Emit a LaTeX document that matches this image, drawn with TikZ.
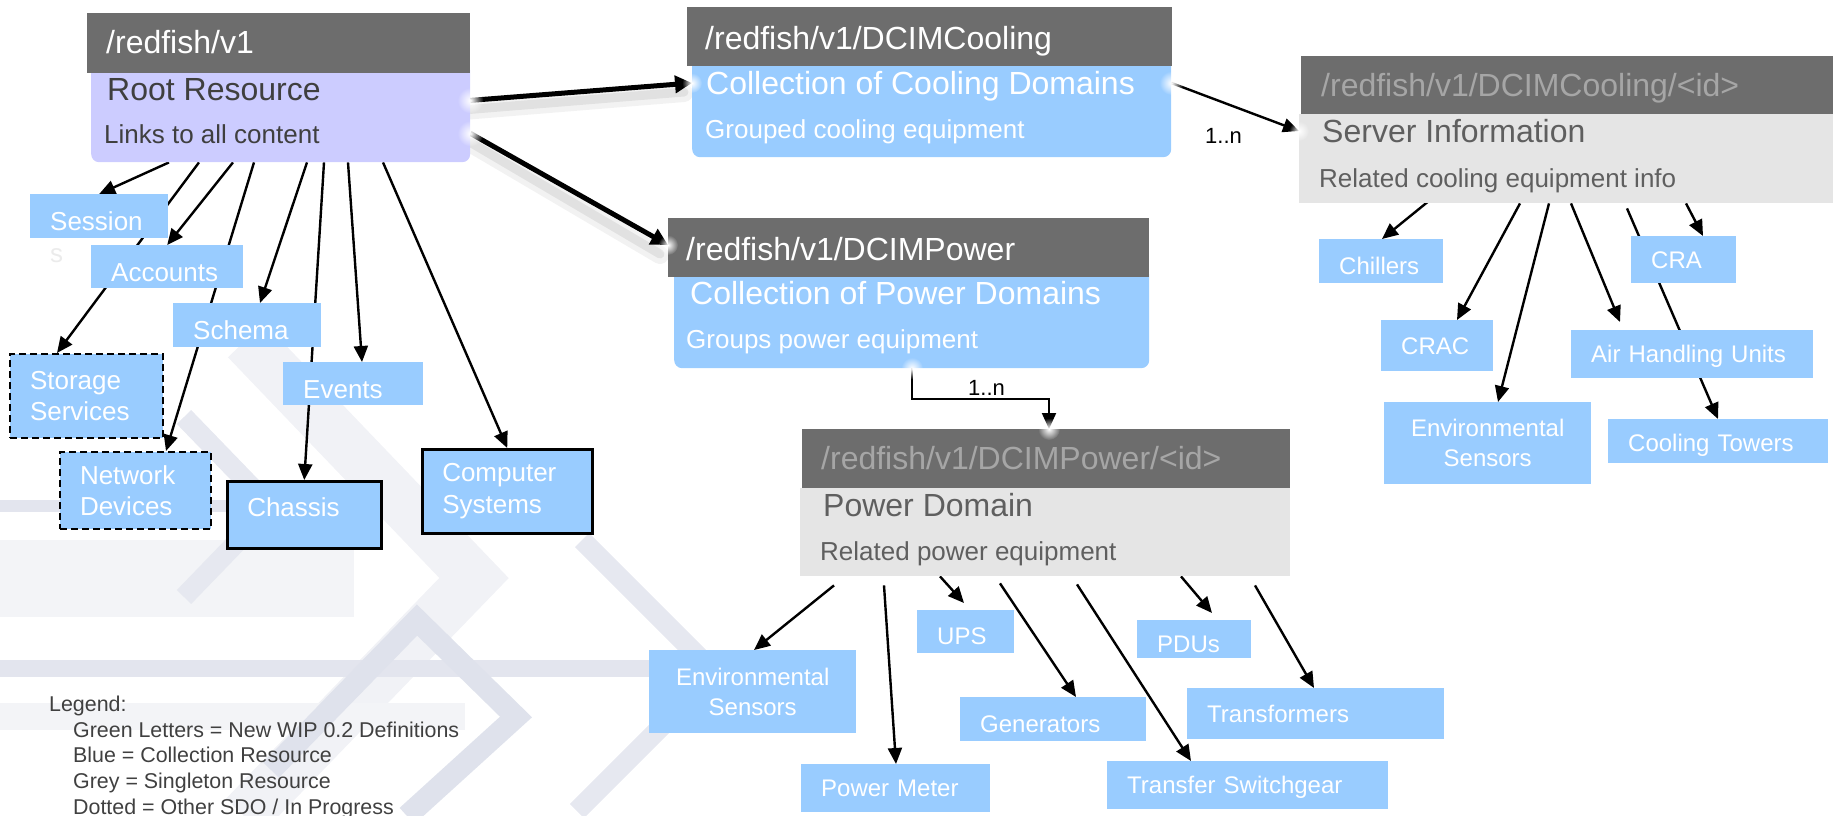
\documentclass[tikz,border=0pt]{standalone}
\usepackage{fontspec}
\setmainfont{Liberation Sans}
\usetikzlibrary{arrows.meta,fadings}
\tikzfading[name=glowfade, inner color=transparent!0, outer color=transparent!100]
\pgfdeclarelayer{bglayer}
\pgfdeclarelayer{lines}
\pgfsetlayers{bglayer,lines,main}
\definecolor{hdr}{HTML}{6D6D6D}
\definecolor{lav}{HTML}{CCCCFF}
\definecolor{lblue}{HTML}{99CCFF}
\definecolor{sgl}{HTML}{E5E5E5}
\definecolor{dtxt}{HTML}{3F3F3F}
\definecolor{gtxt}{HTML}{5F5F5F}
\definecolor{htxt}{HTML}{A6A6A6}
\definecolor{legtxt}{HTML}{404040}
\definecolor{sfaint}{HTML}{EBEBEB}
\definecolor{bgband}{HTML}{E3E5EE}
\definecolor{bgbig}{HTML}{F1F2F6}
\definecolor{bgchev}{HTML}{E6E8F0}
\definecolor{bgzig}{HTML}{DFE2EC}
\definecolor{bglight}{HTML}{F3F4F7}
\begin{document}
\begin{tikzpicture}[x=1pt,y=-1pt,
  kid/.style={anchor=north west, fill=lblue, text=white, inner xsep=20pt, inner ysep=0pt, align=left, font=\fontsize{26}{31.5}\selectfont},
  kidc/.style={kid, font=\fontsize{24}{30}\selectfont},
  one/.style={text depth=0pt},
  lower/.style={text depth=0pt, text height=#1},
  solidb/.style={draw=black, line width=2.5pt},
  dashb/.style={draw=black, line width=2pt, dash pattern=on 7pt off 4pt},
  hdrbox/.style={anchor=north west, fill=hdr, inner sep=0pt},
  colbody/.style={anchor=north west, inner sep=0pt, rounded corners=8pt},
  sglbody/.style={anchor=north west, fill=sgl, inner sep=0pt},
  ttl/.style={anchor=base west, inner sep=0pt, font=\fontsize{32}{38}\selectfont},
  sub/.style={anchor=base west, inner sep=0pt, font=\fontsize{26}{31}\selectfont},
  arr/.style={draw=black, line width=2.4pt, -{Triangle[length=16pt,width=14pt]}},
  bigarr/.style={draw=black, line width=5pt, -{Triangle[length=17pt,width=17pt]}},
  glow/.style={fill=white, path fading=glowfade},
  bgline/.style={line width=#1, line join=miter},
  lbl/.style={anchor=base west, inner sep=0pt, font=\fontsize{22}{26}\selectfont},
  leg/.style={anchor=base west, inner sep=0pt, text=legtxt, font=\fontsize{21.4}{25}\selectfont}
]
\useasboundingbox (0,0) rectangle (1839,816);
% ---------- background pattern ----------
\begin{pgfonlayer}{bglayer}
\draw[bgline=50pt, draw=bgbig] (246,340) -- (474,578) -- (244,816);
\fill[bglight] (0,540) rectangle (354,617);
\fill[bglight] (0,703) rectangle (465,730);
\fill[bgband] (0,500) rectangle (228,512);
\fill[bgband] (0,660) rectangle (650,677);
\draw[bgline=20pt, draw=bgchev] (184,417) -- (271,507) -- (184,597);
\draw[bgline=22pt, draw=bgzig] (271,770) -- (417,620) -- (516,717) -- (407,816);
\draw[bgline=20pt, draw=bgchev] (582,540) -- (715,673) -- (577,811);
\end{pgfonlayer}
% ---------- resource boxes ----------
\node[colbody, fill=lav, minimum width=379pt, minimum height=99pt] (rb) at (91,63) {};
\node[hdrbox, minimum width=383pt, minimum height=60pt] (rh) at (87,13) {};
\node[ttl, text=white] (rht) at (106,54) {/redfish/v1};
\node[ttl, text=dtxt] (rbt) at (107,100) {Root Resource};
\node[sub, text=dtxt] (rbs) at (104,143) {Links to all content};

\node[colbody, fill=lblue, minimum width=479pt, minimum height=101pt] (cb) at (692,56) {};
\node[hdrbox, minimum width=485pt, minimum height=59pt] (ch) at (687,7) {};
\node[ttl, text=white] (cht) at (705,50) {/redfish/v1/DCIMCooling};
\node[ttl, text=white] (cbt) at (706,94) {Collection of Cooling Domains};
\node[sub, text=white] (cbs) at (705,138) {Grouped cooling equipment};

\node[colbody, fill=lblue, minimum width=475pt, minimum height=101pt] (pb) at (674,267) {};
\node[hdrbox, minimum width=481pt, minimum height=59pt] (ph) at (668,218) {};
\node[ttl, text=white] (pht) at (686,260) {/redfish/v1/DCIMPower};
\node[ttl, text=white] (pbt) at (690,304) {Collection of Power Domains};
\node[sub, text=white] (pbs) at (686,348) {Groups power equipment};

\node[sglbody, minimum width=490pt, minimum height=88pt] (pib) at (800,488) {};
\node[hdrbox, minimum width=488pt, minimum height=59pt] (pih) at (802,429) {};
\node[ttl, text=htxt] (piht) at (821,469) {/redfish/v1/DCIMPower/<id>};
\node[ttl, text=gtxt] (pibt) at (823,516) {Power Domain};
\node[sub, text=gtxt] (pibs) at (820,560) {Related power equipment};

\node[sglbody, minimum width=534pt, minimum height=89pt] (cib) at (1299,114) {};
\node[hdrbox, minimum width=532pt, minimum height=58pt] (cih) at (1301,56) {};
\node[ttl, text=htxt] (ciht) at (1321,96) {/redfish/v1/DCIMCooling/<id>};
\node[ttl, text=gtxt] (cibt) at (1322,142) {Server Information};
\node[sub, text=gtxt] (cibs) at (1319,187) {Related cooling equipment info};

% soft glows where the main connectors meet the boxes
\fill[glow] ([yshift=62pt]rb.south east) circle (13pt);
\fill[glow] ([yshift=29pt]rb.south east) circle (13pt);
\fill[glow] ([yshift=-27pt]cb.north east) circle (12pt);
\fill[glow] ([yshift=-27pt]cb.north west) circle (10pt);
\fill[glow] ([yshift=-27pt]ph.north west) circle (10pt);
\fill[glow] ([xshift=238pt]pb.south west) circle (11pt);
\fill[glow] ([xshift=247pt]pih.north west) circle (11pt);
\fill[glow] ([yshift=-17pt]cib.north west) circle (10pt);

% ---------- root children ----------
\node[kid, lower=29pt, minimum height=44pt, text width=98pt] (session) at (30,194) {Session};
\node[kid, lower=29pt, minimum height=43pt, text width=112pt] (accounts) at (91,245) {Accounts};
\node[kid, lower=29pt, minimum height=44pt, text width=108pt] (schema) at (173,303) {Schema};
\node[kid, dashb, minimum height=84pt, text width=113pt] (storage) at (9,353) {Storage\\Services};
\node[kid, dashb, minimum height=77pt, text width=111pt] (network) at (59,451) {Network\\Devices};
\node[kid, lower=29pt, minimum height=43pt, text width=100pt] (events) at (283,362) {Events};
\node[kid, solidb, text height=19pt, text depth=16pt, minimum height=67pt, text width=114pt] (chassis) at (226,480) {Chassis};
\node[kid, solidb, minimum height=84pt, text width=130pt] (comp) at (421,448) {Computer\\Systems};
\node[anchor=base west, inner sep=0pt, text=sfaint, font=\fontsize{26}{31}\selectfont] (sessions) at (50,262) {s};

% ---------- cooling children ----------
\node[kidc, lower=26pt, minimum height=44pt, text width=84pt] (chillers) at (1319,239) {Chillers};
\node[kidc, one, minimum height=47pt, text width=65pt] (cra) at (1631,236) {CRA};
\node[kidc, one, minimum height=51pt, text width=72pt] (crac) at (1381,320) {CRAC};
\node[kidc, one, minimum height=48pt, text width=202pt] (ahu) at (1571,330) {Air Handling Units};
\node[kidc, align=center, minimum height=82pt, text width=167pt] (esc) at (1384,402) {Environmental\\Sensors};
\node[kidc, lower=21pt, minimum height=44pt, text width=180pt] (ct) at (1608,419) {Cooling Towers};

% ---------- power children ----------
\node[kidc, align=center, minimum height=83pt, text width=167pt] (esp) at (649,650) {Environmental\\Sensors};
\node[kidc, one, minimum height=48pt, text width=149pt] (pm) at (801,764) {Power Meter};
\node[kidc, lower=26pt, minimum height=43pt, text width=57pt] (ups) at (917,610) {UPS};
\node[kidc, lower=26pt, minimum height=44pt, text width=146pt] (gen) at (960,697) {Generators};
\node[kidc, one, minimum height=48pt, text width=241pt] (ts) at (1107,761) {Transfer Switchgear};
\node[kidc, lower=27pt, minimum height=38pt, text width=74pt] (pdus) at (1137,620) {PDUs};
\node[kidc, one, minimum height=51pt, text width=217pt] (tr) at (1187,688) {Transformers};

% ---------- legend ----------
\node[leg] (lg0) at (49,711) {Legend:};
\node[leg] (lg1) at (73,737) {Green Letters = New WIP 0.2 Definitions};
\node[leg] (lg2) at (73,762) {Blue = Collection Resource};
\node[leg] (lg3) at (73,788) {Grey = Singleton Resource};
\node[leg] (lg4) at (73,814) {Dotted = Other SDO / In Progress};

% ---------- connectors ----------
\begin{pgfonlayer}{lines}
\draw[line width=18pt, black, opacity=0.05, line cap=round] ([yshift=52pt]rb.south east) -- ([xshift=-8pt,yshift=-37pt]cb.north west);
\draw[line width=9pt, black, opacity=0.07, line cap=round] ([yshift=53pt]rb.south east) -- ([xshift=-8pt,yshift=-36pt]cb.north west);
\draw[line width=18pt, black, opacity=0.05, line cap=round] ([yshift=19pt]rb.south east) -- ([xshift=-8pt,yshift=-37pt]ph.north west);
\draw[line width=9pt, black, opacity=0.07, line cap=round] ([yshift=20pt]rb.south east) -- ([xshift=-8pt,yshift=-36pt]ph.north west);
\draw[bigarr] ([yshift=62pt]rb.south east) -- ([yshift=-27pt]cb.north west);
\draw[bigarr] ([yshift=29pt]rb.south east) -- ([yshift=-27pt]ph.north west);

\draw[arr] ([yshift=-27pt]cb.north east) -- ([yshift=-17pt]cib.north west);
\draw[draw=black, line width=2pt, -{Triangle[length=16pt,width=14pt]}] ([xshift=238pt]pb.south west) |- ([xshift=247pt,yshift=30pt]pih.north west) -- ([xshift=247pt]pih.north west);

% root children
\draw[arr] ([xshift=78pt]rb.south west) -- (session.north);
\draw[arr] ([xshift=108pt]rb.south west) -- ([xshift=48pt]storage.north west);
\draw[arr] ([xshift=142pt]rb.south west) -- (accounts.north);
\draw[arr] ([xshift=163pt]rb.south west) -- ([xshift=107pt]network.north west);
\draw[arr] ([xshift=216pt]rb.south west) -- ([xshift=87pt]schema.north west);
\draw[arr] ([xshift=233pt]rb.south west) -- (chassis.north);
\draw[arr] ([xshift=257pt]rb.south west) -- ([xshift=79pt]events.north west);
\draw[arr] ([xshift=292pt]rb.south west) -- (comp.north);

% cooling children
\draw[arr] ([xshift=133pt,yshift=5pt]cib.south west) -- ([xshift=63pt]chillers.north west);
\draw[arr] ([xshift=221pt]cib.south west) -- ([xshift=76pt]crac.north west);
\draw[arr] ([xshift=250pt]cib.south west) -- ([xshift=114pt]esc.north west);
\draw[arr] ([xshift=272pt]cib.south west) -- ([xshift=49pt,yshift=8pt]ahu.north west);
\draw[arr] ([xshift=328pt,yshift=-5pt]cib.south west) -- ([xshift=110pt]ct.north west);
\draw[arr] ([xshift=387pt]cib.south west) -- ([xshift=72pt]cra.north west);

% power children
\draw[arr] ([xshift=34pt,yshift=-9pt]pib.south west) -- ([xshift=105pt]esp.north west);
\draw[arr] ([xshift=84pt,yshift=-9pt]pib.south west) -- ([xshift=95pt]pm.north west);
\draw[arr] ([xshift=140pt]pib.south west) -- ([xshift=47pt,yshift=7pt]ups.north west);
\draw[arr] ([xshift=200pt,yshift=-7pt]pib.south west) -- ([xshift=116pt]gen.north west);
\draw[arr] ([xshift=277pt,yshift=-8pt]pib.south west) -- ([xshift=84pt]ts.north west);
\draw[arr] ([xshift=381pt]pib.south west) -- ([xshift=75pt,yshift=7pt]pdus.north west);
\draw[arr] ([xshift=455pt,yshift=-9pt]pib.south west) -- ([xshift=127pt]tr.north west);
\end{pgfonlayer}

\node[lbl] (n1) at (1205,143) {1..n};
\node[lbl] (n2) at (968,395) {1..n};

\end{tikzpicture}
\end{document}
